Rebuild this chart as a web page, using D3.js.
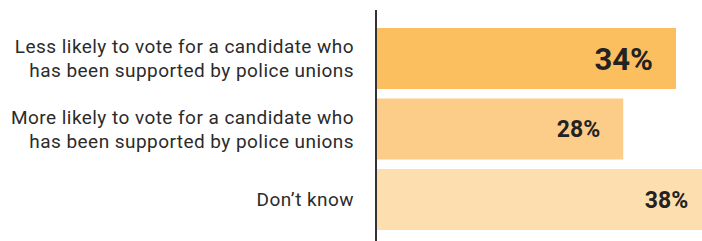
<!DOCTYPE html>
<html>
<head>
<meta charset="utf-8">
<script src="https://cdn.jsdelivr.net/npm/d3@7"></script>
<style>
  html, body { margin: 0; padding: 0; background: #fff; }
  svg { display: block; font-family: Roboto, "Noto Sans", sans-serif; }
</style>
</head>
<body>
<div id="main_div"></div>
<script>
const categories = [
    ["Less likely to vote for a candidate who", "has been supported by police unions"],
    ["More likely to vote for a candidate who", "has been supported by police unions"],
    ["Don\u2019t know"]
];
const values = [34, 28, 38];
const colors = ["#fbbf5f", "#fccd88", "#fddeae"];
const valueSizes = [31, 23, 23];

const W = 702, H = 241;
const X0 = 377;

const svg = d3.select("#main_div")
    .append("svg")
    .attr("width", W)
    .attr("height", H);

const keys = categories.map((c, i) => i);

const y = d3.scaleBand()
    .domain(keys)
    .range([28, 230])
    .paddingInner(0.135)
    .paddingOuter(0);

const x = d3.scaleLinear()
    .domain([0, 34])
    .range([X0, 676]);

// bars
svg.selectAll("rect.bar")
    .data(values)
    .join("rect")
    .attr("class", "bar")
    .attr("x", X0)
    .attr("y", (d, i) => y(i))
    .attr("width", d => x(d) - X0)
    .attr("height", y.bandwidth())
    .attr("fill", (d, i) => colors[i]);

// value labels
svg.selectAll("text.val")
    .data(values)
    .join("text")
    .attr("class", "val")
    .attr("x", d => x(d) - 23)
    .attr("y", (d, i) => y(i) + y.bandwidth() / 2 + valueSizes[i] * 0.711 / 2)
    .attr("text-anchor", "end")
    .attr("font-weight", 700)
    .attr("font-size", (d, i) => valueSizes[i])
    .attr("fill", "#222")
    .text(d => d + "%");

// category labels
const FS = 19, LH = 23.5;
categories.forEach((lines, i) => {
    const cy = y(i) + y.bandwidth() / 2;
    const first = cy - (lines.length - 1) * LH / 2 + FS * 0.711 / 2;
    const t = svg.append("text")
        .attr("text-anchor", "end")
        .attr("font-size", FS)
        .attr("letter-spacing", 0.45)
        .attr("fill", "#2b2b2b");
    lines.forEach((s, j) => {
        t.append("tspan")
            .attr("x", 354)
            .attr("y", first + j * LH)
            .text(s);
    });
});

// axis line
svg.append("line")
    .attr("x1", 376).attr("x2", 376)
    .attr("y1", 10).attr("y2", H)
    .attr("stroke", "#333")
    .attr("stroke-width", 2);
</script>
</body>
</html>
